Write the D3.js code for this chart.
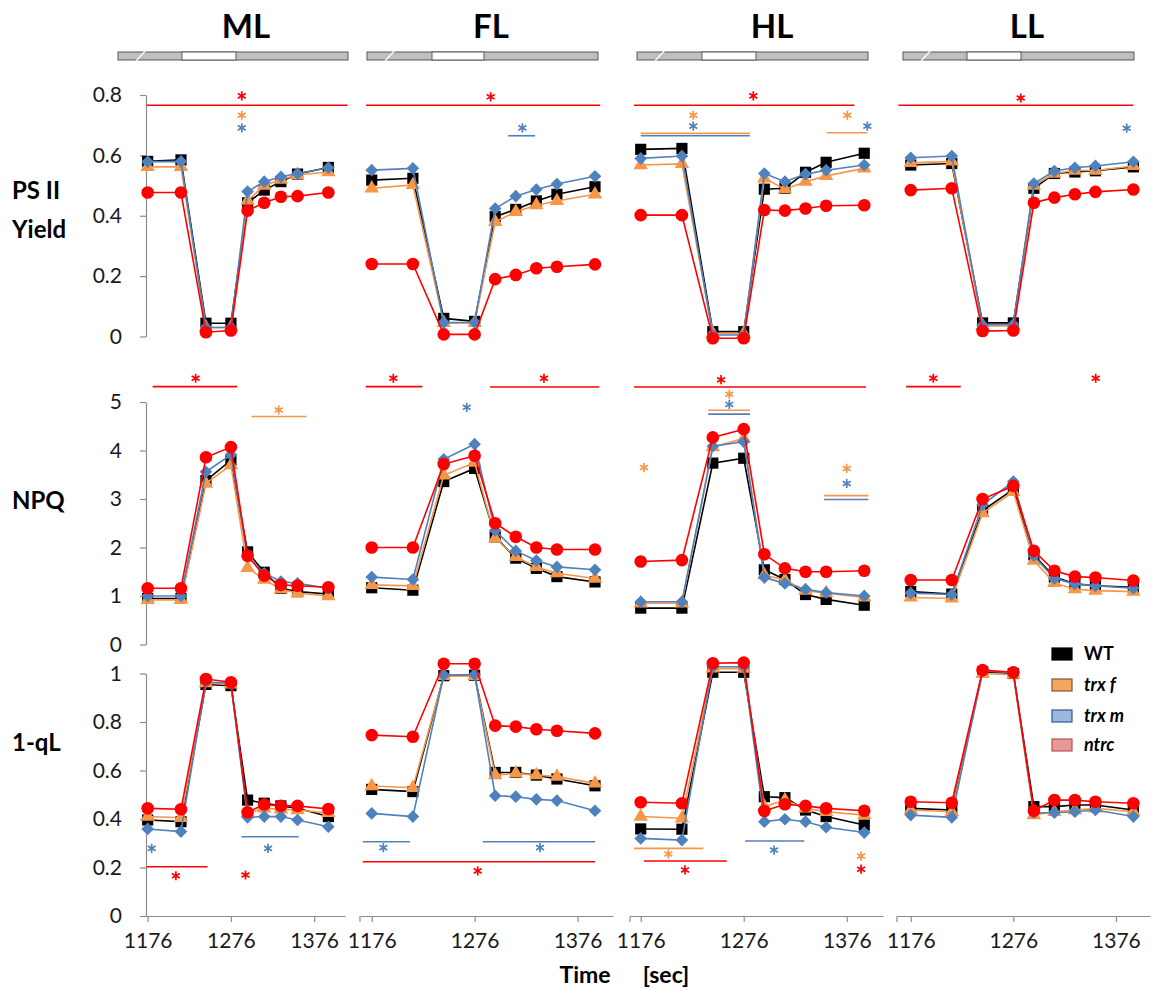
<!DOCTYPE html>
<html lang="en">
<head>
<meta charset="UTF-8">
<script src="https://cdnjs.cloudflare.com/ajax/libs/d3/7.8.5/d3.min.js"></script>
<style>
body{ margin:0; background:#fff; }
svg text{ font-family: Lato, "Open Sans", sans-serif; }
.axis path, .axis line{ stroke:#8c8c8c; stroke-width:1.2; }
.axis text{ font-size:21px; fill:#1a1a1a; }
.rowlab{ font-size:24px; font-weight:bold; }
</style>
</head>
<body>
<div id="main-container"></div>
<script>
// sampling times (sec) shared by every panel
const times = [1176, 1216, 1246, 1276, 1296, 1316, 1336, 1356, 1393];
const lights = ['ML', 'FL', 'HL', 'LL'];
const genotypes = ['WT', 'trx f', 'trx m', 'ntrc'];
const xTicks = [1176, 1276, 1376];
const yTicks = [[0, 0.2, 0.4, 0.6, 0.8], [0, 1, 2, 3, 4, 5], [0, 0.2, 0.4, 0.6, 0.8, 1]];

// each panel: rows in genotype order WT, trx f, trx m, ntrc
const yieldML = [
  [0.58, 0.585, 0.044, 0.044, 0.443, 0.485, 0.513, 0.538, 0.56],
  [0.562, 0.562, 0.03, 0.03, 0.45, 0.5, 0.52, 0.535, 0.545],
  [0.579, 0.58, 0.03, 0.03, 0.48, 0.513, 0.529, 0.54, 0.559],
  [0.477, 0.477, 0.014, 0.02, 0.417, 0.443, 0.463, 0.465, 0.477]];
const yieldFL = [
  [0.518, 0.524, 0.06, 0.05, 0.397, 0.421, 0.449, 0.471, 0.496],
  [0.491, 0.502, 0.045, 0.045, 0.38, 0.413, 0.435, 0.449, 0.471],
  [0.551, 0.557, 0.046, 0.047, 0.424, 0.465, 0.487, 0.505, 0.531],
  [0.24, 0.24, 0.007, 0.007, 0.19, 0.204, 0.226, 0.231, 0.239]];
const yieldHL = [
  [0.62, 0.623, 0.016, 0.016, 0.488, 0.491, 0.544, 0.577, 0.607],
  [0.568, 0.572, 0.01, 0.01, 0.524, 0.488, 0.513, 0.532, 0.557],
  [0.59, 0.598, 0.005, 0.005, 0.54, 0.513, 0.538, 0.551, 0.568],
  [0.402, 0.402, -0.006, -0.006, 0.419, 0.417, 0.424, 0.433, 0.435]];
const yieldLL = [
  [0.568, 0.573, 0.045, 0.045, 0.491, 0.54, 0.545, 0.549, 0.562],
  [0.575, 0.58, 0.035, 0.035, 0.5, 0.54, 0.55, 0.55, 0.565],
  [0.592, 0.598, 0.038, 0.04, 0.507, 0.548, 0.559, 0.565, 0.579],
  [0.485, 0.491, 0.018, 0.02, 0.443, 0.46, 0.471, 0.479, 0.487]];

const npqML = [
  [0.95, 0.95, 3.38, 3.8, 1.91, 1.49, 1.16, 1.09, 1.04],
  [0.92, 0.92, 3.32, 3.7, 1.58, 1.34, 1.14, 1.06, 1.0],
  [1.0, 1.0, 3.56, 3.91, 1.81, 1.47, 1.3, 1.26, 1.16],
  [1.16, 1.16, 3.86, 4.07, 1.83, 1.42, 1.23, 1.21, 1.18]];
const npqFL = [
  [1.17, 1.12, 3.36, 3.63, 2.22, 1.78, 1.57, 1.4, 1.29],
  [1.23, 1.21, 3.49, 3.75, 2.19, 1.81, 1.6, 1.47, 1.36],
  [1.39, 1.34, 3.82, 4.13, 2.35, 1.93, 1.73, 1.6, 1.54],
  [2.0, 2.0, 3.72, 3.89, 2.5, 2.22, 2.0, 1.96, 1.96]];
const npqHL = [
  [0.75, 0.75, 3.74, 3.84, 1.54, 1.34, 1.03, 0.93, 0.81],
  [0.85, 0.85, 4.07, 4.25, 1.43, 1.33, 1.11, 1.06, 0.97],
  [0.88, 0.88, 4.09, 4.18, 1.38, 1.26, 1.14, 1.07, 1.0],
  [1.71, 1.74, 4.27, 4.44, 1.86, 1.57, 1.5, 1.5, 1.52]];
const npqLL = [
  [1.09, 1.04, 2.76, 3.2, 1.85, 1.39, 1.25, 1.21, 1.18],
  [0.97, 0.95, 2.71, 3.15, 1.73, 1.27, 1.14, 1.11, 1.09],
  [1.06, 1.03, 2.88, 3.36, 1.83, 1.36, 1.25, 1.21, 1.16],
  [1.33, 1.33, 3.0, 3.27, 1.93, 1.52, 1.4, 1.38, 1.32]];

const qlML = [
  [0.396, 0.389, 0.955, 0.95, 0.478, 0.465, 0.454, 0.444, 0.41],
  [0.41, 0.405, 0.96, 0.955, 0.424, 0.444, 0.44, 0.437, 0.425],
  [0.359, 0.348, 0.965, 0.96, 0.407, 0.41, 0.41, 0.396, 0.368],
  [0.444, 0.44, 0.977, 0.964, 0.428, 0.46, 0.454, 0.454, 0.441]];
const qlFL = [
  [0.522, 0.513, 0.991, 0.993, 0.592, 0.592, 0.581, 0.565, 0.537],
  [0.536, 0.529, 0.99, 0.99, 0.581, 0.588, 0.581, 0.575, 0.547],
  [0.423, 0.41, 0.994, 0.996, 0.496, 0.492, 0.481, 0.476, 0.434],
  [0.746, 0.739, 1.04, 1.04, 0.785, 0.781, 0.77, 0.764, 0.753]];
const qlHL = [
  [0.359, 0.358, 1.005, 1.005, 0.492, 0.488, 0.437, 0.41, 0.375],
  [0.41, 0.403, 1.021, 1.02, 0.451, 0.478, 0.444, 0.43, 0.416],
  [0.32, 0.313, 1.028, 1.028, 0.389, 0.399, 0.389, 0.366, 0.344],
  [0.469, 0.465, 1.042, 1.045, 0.433, 0.461, 0.454, 0.444, 0.434]];
const qlLL = [
  [0.444, 0.437, 1.007, 1.0, 0.451, 0.451, 0.458, 0.458, 0.437],
  [0.437, 0.43, 1.0, 0.995, 0.416, 0.43, 0.437, 0.444, 0.43],
  [0.416, 0.407, 1.01, 1.003, 0.426, 0.426, 0.43, 0.437, 0.41],
  [0.471, 0.467, 1.014, 1.005, 0.434, 0.478, 0.478, 0.471, 0.465]];

// significance marks: [genotype, tStart, tEnd, value] = bar, [genotype, t, value] = star
const sigYieldML = [['ntrc', 1175, 1416, 0.766], ['ntrc', 1289, 0.797], ['trx f', 1289, 0.733], ['trx m', 1289, 0.691]];
const sigYieldFL = [['ntrc', 1170.5, 1398, 0.766], ['trx m', 1308.7, 1334.7, 0.665],
  ['ntrc', 1291.6, 0.794], ['trx m', 1322.4, 0.691]];
const sigYieldHL = [['ntrc', 1169.5, 1383.4, 0.766], ['trx f', 1176, 1282, 0.673], ['trx m', 1176, 1282, 0.665],
  ['trx f', 1356.6, 1396, 0.675], ['ntrc', 1285.3, 0.797], ['trx f', 1227, 0.733], ['trx m', 1227, 0.697],
  ['trx f', 1376.6, 0.733], ['trx m', 1396, 0.697]];
const sigYieldLL = [['ntrc', 1164, 1393, 0.766], ['ntrc', 1283.2, 0.79], ['trx m', 1386.5, 0.69]];

const sigNpqML = [['ntrc', 1182, 1283.4, 5.316], ['trx f', 1300.7, 1366.6, 4.7], ['ntrc', 1233.6, 5.49], ['trx f', 1333.4, 4.835]];
const sigNpqFL = [['ntrc', 1170.2, 1225.2, 5.316], ['ntrc', 1291, 1397.2, 5.31],
  ['ntrc', 1197, 5.49], ['ntrc', 1343.4, 5.49], ['trx m', 1268.3, 4.89]];
const sigNpqHL = [['ntrc', 1169.5, 1394.7, 5.31], ['trx f', 1241.6, 1282.1, 4.83], ['trx m', 1241.6, 1282.1, 4.75],
  ['trx f', 1354, 1397, 3.07], ['trx m', 1354, 1397, 2.99], ['ntrc', 1254, 5.46], ['trx f', 1262, 5.16],
  ['trx m', 1262, 4.95], ['trx f', 1179.2, 3.65], ['trx f', 1376, 3.63], ['trx m', 1376, 3.32]];
const sigNpqLL = [['ntrc', 1171.4, 1224.7, 5.316], ['ntrc', 1198, 5.49], ['ntrc', 1356.3, 5.49]];

const sigQlML = [['ntrc', 1174.8, 1247.9, 0.203], ['trx m', 1288.7, 1357.4, 0.327], ['trx m', 1180.8, 0.279],
  ['ntrc', 1209.9, 0.166], ['trx m', 1320.6, 0.279], ['ntrc', 1293.5, 0.169]];
const sigQlFL = [['trx m', 1167.3, 1213.2, 0.306], ['trx m', 1283.9, 1393, 0.306], ['ntrc', 1167.3, 1393, 0.224],
  ['trx m', 1187.3, 0.282], ['trx m', 1339.6, 0.282], ['ntrc', 1279, 0.186]];
const sigQlHL = [['trx f', 1169.5, 1236.8, 0.279], ['ntrc', 1179.2, 1259.5, 0.227], ['trx m', 1277.3, 1334.8, 0.309],
  ['trx f', 1202.8, 0.256], ['ntrc', 1219, 0.19], ['trx m', 1305.4, 0.272], ['trx f', 1389.9, 0.247], ['ntrc', 1389.9, 0.193]];
const sigQlLL = [];

const colors = {'WT': '#000000', 'trx f': '#f79646', 'trx m': '#4f81bd', 'ntrc': '#ff0000'};
const legendFill = {'WT': '#000000', 'trx f': '#f2a85e', 'trx m': '#9cb8dd', 'ntrc': '#e7999a'};
const legendStroke = {'WT': '#000000', 'trx f': '#7f5a2e', 'trx m': '#2f5597', 'ntrc': '#c0504d'};

// layout
const w = 1159, h = 990;
const cols = [
  {left: 146, right: 345, t0: 1174, t1: 1413, title: 246, bar: [118, 182, 236, 348]},
  {left: 360, right: 613, t0: 1164.6, t1: 1410.5, title: 491, bar: [367, 432, 484, 598]},
  {left: 630, right: 883, t0: 1165.6, t1: 1411.2, title: 772, bar: [637, 702, 756, 868]},
  {left: 897, right: 1150, t0: 1162.6, t1: 1409.2, title: 1027, bar: [903, 967, 1021, 1134]}];
const rows = [
  {top: 95, bottom: 336.5, max: 0.8, label: ['PS II', 'Yield'], labelY: 199},
  {top: 402, bottom: 644.5, max: 5, label: ['NPQ'], labelY: 509},
  {top: 673.5, bottom: 916, max: 1, label: ['1-qL'], labelY: 751}];
const panelData = [[yieldML, yieldFL, yieldHL, yieldLL], [npqML, npqFL, npqHL, npqLL], [qlML, qlFL, qlHL, qlLL]];
const panelSig = [[sigYieldML, sigYieldFL, sigYieldHL, sigYieldLL], [sigNpqML, sigNpqFL, sigNpqHL, sigNpqLL], [sigQlML, sigQlFL, sigQlHL, sigQlLL]];

const svg = d3.select('#main-container').append('svg').attr('width', w).attr('height', h);

// star drawn as six-armed asterisk
const starR = 4.6;
const starPath = 'M0,' + (-starR) + 'L0,' + starR +
  'M' + (-starR * 0.866) + ',' + (-starR / 2) + 'L' + (starR * 0.866) + ',' + (starR / 2) +
  'M' + (-starR * 0.866) + ',' + (starR / 2) + 'L' + (starR * 0.866) + ',' + (-starR / 2);

const markers = {
  'WT': {type: d3.symbolSquare, size: 125, rot: 0},
  'trx f': {type: d3.symbolTriangle, size: 90, rot: 0},
  'trx m': {type: d3.symbolSquare, size: 80, rot: 45},
  'ntrc': {type: d3.symbolCircle, size: 125, rot: 0}};

// column titles and light bars
cols.forEach((c, ci) => {
  svg.append('text').attr('x', c.title).attr('y', 38).attr('text-anchor', 'middle')
    .style('font-size', '33px').style('font-weight', 'bold').text(lights[ci]);
  const b = c.bar;
  svg.append('rect').attr('x', b[0]).attr('y', 52).attr('width', b[3] - b[0]).attr('height', 8)
    .attr('fill', '#bfbfbf').attr('stroke', '#595959').attr('stroke-width', 1);
  svg.append('rect').attr('x', b[1]).attr('y', 52).attr('width', b[2] - b[1]).attr('height', 8)
    .attr('fill', '#ffffff').attr('stroke', '#595959').attr('stroke-width', 1);
  svg.append('line').attr('x1', b[0] + 18).attr('y1', 61).attr('x2', b[0] + 30).attr('y2', 48)
    .attr('stroke', '#ffffff').attr('stroke-width', 1.2);
});

rows.forEach((r, ri) => {
  const y = d3.scaleLinear().domain([0, r.max]).range([r.bottom, r.top]);

  // row label
  const lab = svg.append('text').attr('class', 'rowlab').attr('x', 12).attr('y', r.labelY);
  r.label.forEach((t, i) => lab.append('tspan').attr('x', 12).attr('dy', i ? 39 : 0).text(t));

  // y axis only at the left column
  svg.append('g').attr('class', 'axis').attr('transform', 'translate(' + cols[0].left + ',0)')
    .call(d3.axisLeft(y).tickValues(yTicks[ri]).tickSize(6).tickSizeOuter(0).tickPadding(18).tickFormat(d => d));

  cols.forEach((c, ci) => {
    const x = d3.scaleLinear().domain([c.t0, c.t1]).range([c.left, c.right]);
    const g = svg.append('g');

    if (ri === 2) {
      g.append('g').attr('class', 'axis').attr('transform', 'translate(0,' + r.bottom + ')')
        .call(d3.axisBottom(x).tickValues(xTicks).tickSize(6).tickSizeOuter(0).tickPadding(11).tickFormat(d => d));
      if (ci > 0) {
        g.append('line').attr('x1', c.left).attr('x2', c.left).attr('y1', r.bottom).attr('y2', r.bottom + 6)
          .attr('stroke', '#8c8c8c').attr('stroke-width', 1.2);
      }
    }

    // significance bars and stars
    const sig = panelSig[ri][ci];
    g.selectAll('line.sig').data(sig.filter(s => s.length === 4)).enter().append('line')
      .attr('class', 'sig')
      .attr('x1', d => x(d[1])).attr('x2', d => x(d[2]))
      .attr('y1', d => y(d[3])).attr('y2', d => y(d[3]))
      .attr('stroke', d => colors[d[0]]).attr('stroke-width', 1.6);
    g.selectAll('path.star').data(sig.filter(s => s.length === 3)).enter().append('path')
      .attr('class', 'star')
      .attr('d', starPath)
      .attr('transform', d => 'translate(' + x(d[1]) + ',' + y(d[2]) + ')')
      .attr('fill', 'none').attr('stroke', d => colors[d[0]]).attr('stroke-width', 1.7);

    // series
    const line = d3.line().x((d, i) => x(times[i])).y(d => y(d));
    panelData[ri][ci].forEach((vals, gi) => {
      const gen = genotypes[gi];
      g.append('path').datum(vals).attr('d', line)
        .attr('fill', 'none').attr('stroke', colors[gen]).attr('stroke-width', 1.6);
      const m = markers[gen];
      g.selectAll('path.m' + gi).data(vals).enter().append('path')
        .attr('class', 'm' + gi)
        .attr('d', d3.symbol().type(m.type).size(m.size))
        .attr('transform', (d, i) => 'translate(' + x(times[i]) + ',' + y(d) + ') rotate(' + m.rot + ')')
        .attr('fill', colors[gen]);
    });
  });
});

// legend
const legend = svg.append('g').attr('transform', 'translate(1052,648)');
genotypes.forEach((gen, i) => {
  const yy = [0, 31, 62, 91][i];
  legend.append('rect').attr('x', 0).attr('y', yy).attr('width', 20).attr('height', 12)
    .attr('fill', legendFill[gen]).attr('stroke', legendStroke[gen]).attr('stroke-width', 1.2);
  legend.append('text').attr('x', 32).attr('y', yy + 12)
    .style('font-size', '18px').style('font-weight', 'bold')
    .style('font-style', gen === 'WT' ? 'normal' : 'italic').text(gen);
});

// x axis title
svg.append('text').attr('x', 585).attr('y', 983).attr('text-anchor', 'middle')
  .style('font-size', '23px').style('font-weight', 'bold').text('Time');
svg.append('text').attr('x', 666).attr('y', 983).attr('text-anchor', 'middle')
  .style('font-size', '23px').style('font-weight', 'bold').text('[sec]');
</script>
</body>
</html>
